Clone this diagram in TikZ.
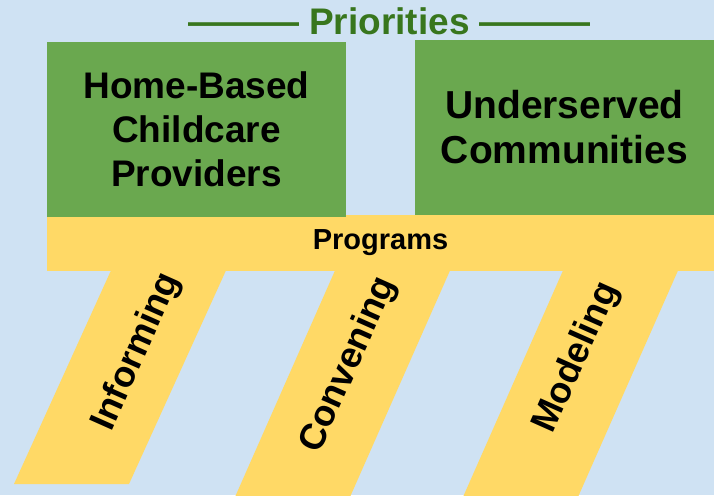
\documentclass[tikz,border=0pt]{standalone}
\usepackage{fontspec}
\setmainfont{Liberation Sans}
\definecolor{bgblue}{HTML}{CFE2F3}
\definecolor{boxgreen}{HTML}{6AA84F}
\definecolor{baryellow}{HTML}{FFD966}
\definecolor{titlegreen}{HTML}{38761D}
\begin{document}
\begin{tikzpicture}[x=1pt,y=-1pt,
  greenbox/.style={fill=boxgreen, draw=none, inner sep=0pt, align=center,
    minimum width=299pt, minimum height=175pt},
  progbar/.style={fill=baryellow, draw=none, inner sep=0pt,
    minimum width=667pt, minimum height=56pt,
    font=\fontsize{29}{34}\selectfont\bfseries},
  leg/.style={fill=baryellow, draw=none},
  legtext/.style={rotate=66, inner sep=0pt, font=\fontsize{36.5}{40}\selectfont\bfseries},
  titletext/.style={text=titlegreen, inner sep=0pt, font=\fontsize{37}{42}\selectfont\bfseries}]
\fill[bgblue] (0,0) rectangle (714,495);
\useasboundingbox (0,0) rectangle (714,495);
% legs
\fill[leg] (113,266) -- (228,266) -- (129,484) -- (14,484) -- cycle;
\fill[leg] (337,266) -- (452,266) -- (350,497) -- (235,497) -- cycle;
\fill[leg] (565,266) -- (680,266) -- (578,497) -- (463,497) -- cycle;
% bar
\node[progbar] (programs) at (380.5,243) {Programs};
% priority boxes
\node[greenbox, font=\fontsize{37}{44}\selectfont\bfseries] (home) at (196.5,129.5) {Home-Based\\Childcare\\Providers};
\node[greenbox, font=\fontsize{39}{45}\selectfont\bfseries] (under) at (564.5,127.5) {Underserved\\Communities};
% title
\node[titletext, anchor=base] (title) at (389.5,35) {——— Priorities ———};
% leg labels
\node[legtext] (informing) at (137,352) {Informing};
\node[legtext] (convening) at (349,365) {Convening};
\node[legtext] (modeling) at (577,358) {Modeling};
\end{tikzpicture}
\end{document}
